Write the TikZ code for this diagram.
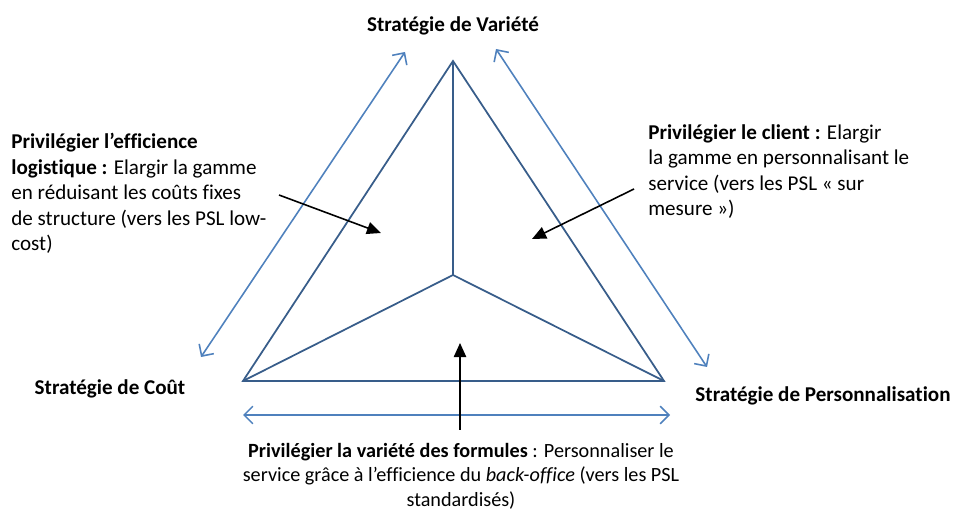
\documentclass[tikz,border=0pt]{standalone}
\usepackage{fontspec}
\setmainfont{Carlito}[Ligatures=NoCommon]
\usetikzlibrary{arrows.meta}
\definecolor{triblue}{RGB}{56,93,138}
\definecolor{axisblue}{RGB}{79,129,189}
\tikzset{
  side/.style={draw=triblue, line width=1pt},
  axis/.style={draw=axisblue, line width=0.9pt,
    {Straight Barb[length=5pt,width=10pt]}-{Straight Barb[length=5pt,width=10pt]}},
  pointer/.style={draw=black, line width=0.9pt, -{Triangle[length=8pt,width=7pt]}},
  pole/.style={font=\bfseries\fontsize{12}{14.5}\selectfont, inner sep=0pt},
  note/.style={font=\fontsize{12}{14.5}\selectfont, align=left, inner sep=0pt}
}
\begin{document}
\begin{tikzpicture}[x=0.02cm, y=-0.02cm]
  \useasboundingbox (0, 0) rectangle (960, 509);
  % triangle
  \coordinate (var) at (453, 61);
  \coordinate (cout) at (243, 381);
  \coordinate (perso) at (664, 381);
  \coordinate (mid) at (453, 275);
  \draw [side, line join=miter] (var) -- (cout) -- (perso) -- cycle;
  \draw [side] (var) -- (mid);
  \draw [side] (cout) -- (mid) -- (perso);
  % axes
  \coordinate (a1) at (201, 357);
  \coordinate (a2) at (405, 52);
  \coordinate (b1) at (496, 49);
  \coordinate (b2) at (707, 367);
  \coordinate (c1) at (243, 415);
  \coordinate (c2) at (670, 415);
  \draw [axis] (a1) -- (a2);
  \draw [axis] (b1) -- (b2);
  \draw [axis] (c1) -- (c2);
  % poles
  \node [pole] (tvar) at (453, 26) {Stratégie de Variété};
  \node [pole] (tcout) at (110, 389) {Stratégie de Coût};
  \node [pole] (tperso) at (823, 396) {Stratégie de Personnalisation};
  % notes
  \node [note, anchor=north west] (nlog) at (11, 133) {%
    \textbf{Privilégier l’efficience}\\
    \textbf{logistique :} Elargir la gamme\\
    en réduisant les coûts fixes\\
    de structure (vers les PSL low-\\
    cost)};
  \node [note, anchor=north west] (ncli) at (648, 124) {%
    \textbf{Privilégier le client :} Elargir\\
    la gamme en personnalisant le\\
    service (vers les PSL « sur\\
    mesure »)};
  \node [note, align=center, anchor=north,
         font=\fontsize{11.5}{13.9}\selectfont] (nvar) at (461, 443) {%
    \textbf{Privilégier la variété des formules} : Personnaliser le\\
    service grâce à l’efficience du \textit{back-office} (vers les PSL\\
    standardisés)};
  % pointers
  \coordinate (p1) at (279, 195);
  \coordinate (q1) at (381, 233);
  \coordinate (p2) at (634, 189);
  \coordinate (q2) at (532, 239);
  \coordinate (p3) at (460, 430);
  \coordinate (q3) at (460, 343);
  \draw [pointer] (p1) -- (q1);
  \draw [pointer] (p2) -- (q2);
  \draw [pointer] (p3) -- (q3);
\end{tikzpicture}
\end{document}
